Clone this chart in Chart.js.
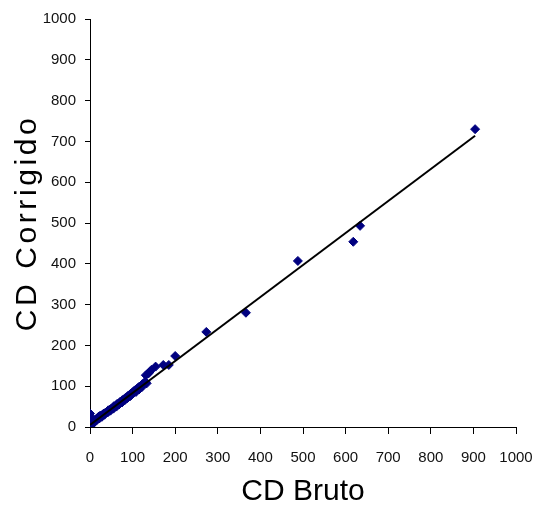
<!DOCTYPE html>
<html>
<head>
<meta charset="utf-8">
<script src="https://cdn.jsdelivr.net/npm/chart.js@4.4.1/dist/chart.umd.min.js"></script>
<style>
  html, body { margin: 0; padding: 0; background: #fff; }
  #wrap { width: 534px; height: 510px; }
</style>
</head>
<body>
<div id="wrap"><canvas id="myChart"></canvas></div>
<script>
// raw vs corrected CD readings
let brutoValues = [0, 0, 0, 0, 0, 0, 2, 4, 5, 8, 10, 12, 15, 16, 18, 20, 22, 23, 26, 28, 30, 33, 34, 36,
    40, 42, 43, 46, 48, 50, 53, 55, 56, 60, 62, 63, 66, 68, 70, 73, 75, 76, 80, 82, 83, 86,
    88, 90, 93, 95, 96, 100, 102, 103, 106, 108, 110, 113, 115, 116, 120, 122, 123, 127, 130,
    133, 131, 137, 140, 144, 154, 172, 185, 200, 273, 366, 488, 618, 634, 904];
let corrigidoValues = [5, 10, 15, 22, 27, 33, 8, 6, 12, 14, 11, 17, 20, 17, 22, 25, 21, 27, 28, 25, 31, 33, 30, 35,
    37, 36, 41, 42, 40, 45, 47, 45, 51, 52, 50, 56, 57, 55, 61, 62, 60, 66, 68, 66, 71, 73,
    71, 77, 79, 76, 82, 85, 83, 88, 90, 86, 93, 96, 92, 99, 101, 98, 105, 108, 111,
    107, 127, 131, 135, 140, 148, 152, 152, 174, 233, 280, 407, 454, 493, 730];

// linear trend line end points
let trendX = [0, 904];
let trendY = [5, 714];

let xTitle = 'CD Bruto';
let yTitle = 'CD Corrigido';

let points = brutoValues.map((x, i) => ({ x: x, y: corrigidoValues[i] }));
let trend = trendX.map((x, i) => ({ x: x, y: trendY[i] }));

const fontFamily = '"Liberation Sans", Arial, sans-serif';

// y title is drawn by hand so it can get the wide letter spacing
const yTitlePlugin = {
    id: 'yTitle',
    afterDraw(chart) {
        const ctx = chart.ctx;
        const area = chart.chartArea;
        ctx.save();
        ctx.translate(36, (area.top + area.bottom) / 2);
        ctx.rotate(-Math.PI / 2);
        ctx.font = '30px ' + fontFamily;
        ctx.fillStyle = '#000';
        ctx.textAlign = 'center';
        ctx.textBaseline = 'alphabetic';
        if ('letterSpacing' in ctx) ctx.letterSpacing = '3.6px';
        ctx.fillText(yTitle, 0, 0);
        ctx.restore();
    }
};

let data = {
    datasets: [{
        type: 'scatter',
        label: 'CD',
        data: points,
        backgroundColor: '#000080',
        borderColor: '#000080',
        borderWidth: 1,
        pointStyle: 'rectRot',
        pointRadius: 4.5,
        order: 2
    }, {
        type: 'line',
        label: 'Linear',
        data: trend,
        borderColor: '#000',
        borderWidth: 2,
        pointRadius: 0,
        fill: false,
        order: 1
    }]
};

let config = {
    type: 'scatter',
    data: data,
    options: {
        responsive: true,
        maintainAspectRatio: false,
        animation: false,
        layout: {
            padding: { top: 19, right: 0, left: 0, bottom: 0 }
        },
        plugins: {
            legend: { display: false },
            tooltip: { enabled: false }
        },
        scales: {
            x: {
                type: 'linear',
                min: 0,
                max: 1000,
                afterFit: (scale) => {
                    scale.height = 83;
                    scale.paddingLeft = 0;
                    scale.paddingRight = 18;
                },
                border: { display: true, color: '#000', width: 1 },
                grid: { drawOnChartArea: false, drawTicks: true, tickLength: 7, color: '#000' },
                ticks: {
                    stepSize: 100,
                    color: '#111',
                    padding: 15,
                    maxRotation: 0,
                    font: { family: fontFamily, size: 15 },
                    callback: (v) => String(v)
                },
                title: {
                    display: true,
                    text: xTitle,
                    color: '#000',
                    font: { family: fontFamily, size: 30 },
                    padding: { top: 0, bottom: 0 }
                }
            },
            y: {
                type: 'linear',
                min: 0,
                max: 1000,
                afterFit: (scale) => { scale.width = 90; },
                border: { display: true, color: '#000', width: 1 },
                grid: { drawOnChartArea: false, drawTicks: true, tickLength: 5, color: '#000' },
                ticks: {
                    stepSize: 100,
                    color: '#111',
                    padding: 9,
                    font: { family: fontFamily, size: 15 },
                    callback: (v) => String(v)
                }
            }
        }
    },
    plugins: [yTitlePlugin]
};

let myChart = new Chart(
    document.getElementById('myChart'),
    config
);
</script>
</body>
</html>
